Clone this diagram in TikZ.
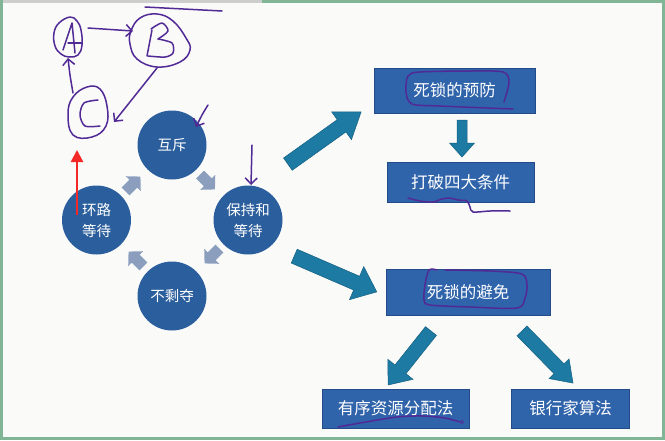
\documentclass[tikz,border=0pt]{standalone}
\usepackage{fontspec}
\newfontfamily\cjk{Noto Sans CJK SC}
\usepackage{tikz}
\usetikzlibrary{
  arrows.meta,
  positioning
}
\definecolor{framegreen}{RGB}{128,182,150}
\definecolor{paper}{RGB}{250,250,249}
\definecolor{topgray}{RGB}{205,205,205}
\definecolor{boxblue}{RGB}{47,99,170}
\definecolor{boxedge}{RGB}{35,75,135}
\definecolor{circblue}{RGB}{43,94,156}
\definecolor{arrteal}{RGB}{28,122,163}
\definecolor{arredge}{RGB}{20,95,128}
\definecolor{cyclegray}{RGB}{140,158,190}
\definecolor{inkpurple}{RGB}{82,42,150}
\definecolor{redpen}{RGB}{245,40,40}

% block arrow: style, centre, angle, length, shaft, head width, head length
\newcommand{\blockarrow}[7]{%
  \path[#1, shift={#2}, rotate=#3]
    ({-#4/2},{-#5/2}) -- ({#4/2-#7},{-#5/2}) -- ({#4/2-#7},{-#6/2})
    -- ({#4/2},0) -- ({#4/2-#7},{#6/2}) -- ({#4/2-#7},{#5/2})
    -- ({-#4/2},{#5/2}) -- cycle;}

\begin{document}
\begin{tikzpicture}[x=1pt, y=-1pt,
  stage/.style={circle, fill=circblue, minimum size=69pt, inner sep=0pt,
    text=white, align=center, font=\cjk\fontsize{14.5}{21}\selectfont},
  stepbox/.style={draw=boxedge, line width=0.6pt, fill=boxblue, text=white,
    inner sep=0pt, font=\cjk\fontsize{16.5}{18}\selectfont},
  bigarrow/.style={fill=arrteal, draw=arredge, line width=0.5pt},
  cyclearrow/.style={fill=cyclegray},
  ink/.style={draw=inkpurple, line width=1.5pt, line cap=round, line join=round},
  inkarr/.style={ink, -{Straight Barb[length=6pt, width=12pt]}}
]
  \useasboundingbox (0,0) rectangle (665,440);

  % frame of the screenshot
  \fill[framegreen] (0,0) rectangle (665,440);
  \fill[paper] (3,3) rectangle (662,437);
  \fill[topgray] (3,0) rectangle (262,3);

  % four conditions
  \node[stage] (mutex) at (172,145) {互斥};
  \node[stage] (hold) at (248,220) {保持和\\等待};
  \node[stage] (nopre) at (172,296) {不剩夺};
  \node[stage] (circwait) at (96.5,220) {环路\\等待};

  % cycle arrows
  \blockarrow{cyclearrow}{(207.5,182)}{-45}{21}{11}{21}{10}
  \blockarrow{cyclearrow}{(212,256)}{-135}{21}{11}{21}{10}
  \blockarrow{cyclearrow}{(136,259)}{135}{21}{11}{21}{10}
  \blockarrow{cyclearrow}{(133,184)}{45}{21}{11}{21}{10}

  % prevention and avoidance
  \node[stepbox, minimum width=161pt, minimum height=45pt] (prevent) at (454.5,90.5) {死锁的预防};
  \node[stepbox, minimum width=147pt, minimum height=40pt] (breakfour) at (460.5,182) {打破四大条件};
  \node[stepbox, minimum width=164pt, minimum height=46pt] (avoid) at (468,292) {死锁的避免};
  \node[stepbox, minimum width=147pt, minimum height=39pt] (ordered) at (395.5,408.5) {有序资源分配法};
  \node[stepbox, minimum width=118pt, minimum height=39pt, right=42pt of ordered] (banker) {银行家算法};

  % big arrows
  \blockarrow{bigarrow}{(324.5,138)}{35.5}{90}{15}{34}{24}
  \blockarrow{bigarrow}{(335.5,274)}{-23.4}{90}{15}{36}{22}
  \blockarrow{bigarrow}{(462,138.5)}{-90}{37}{10}{25}{14}
  \blockarrow{bigarrow}{(409.5,358)}{231.5}{69}{14}{32}{20}
  \blockarrow{bigarrow}{(547.5,357)}{-45.6}{73}{14}{28}{20}

  % handwritten A, B, C
  \draw[ink] plot[smooth cycle, tension=0.7] coordinates
    {(70,17) (59,23) (54,33) (55,46) (61,54) (69,57) (78,55) (82,45) (81,30) (77,21)};
  \draw[ink] (63,50) -- (72,23) -- (75,53);
  \draw[ink] (68,43) -- (82,43);
  \draw[ink] plot[smooth cycle, tension=0.7] coordinates
    {(140,18) (157,14) (173,21) (186,38) (190,50) (180,62) (157,67) (137,59) (130,44) (131,31)};
  \draw[ink] (152,30) -- (147,56);
  \draw[ink] plot[smooth] coordinates {(151,29) (162,23) (168,31) (158,39)};
  \draw[ink] plot[smooth] coordinates {(158,39) (172,43) (173,53) (165,57) (148,56)};
  \draw[ink] plot[smooth cycle, tension=0.7] coordinates
    {(87,87) (100,89) (107,106) (106,126) (92,137) (73,135) (68,114) (73,97)};
  \draw[ink] plot[smooth] coordinates {(98,100) (84,103) (80,115) (85,126) (100,126)};
  \draw[inkarr] (88,28) -- (133,31);
  \draw[inkarr] (157,68) -- (114,122);
  \draw[inkarr] plot[smooth] coordinates {(73,93) (70,75) (68,58)};
  \draw[ink] (145,7) -- (222,11);

  % pen marks on the slide
  \draw[inkarr] plot[smooth] coordinates {(208,105) (202,115) (196,127)};
  \draw[inkarr] (252,145) -- (251,185);
  \draw[ink] plot[smooth] coordinates
    {(513,109) (440,106) (412,104) (406,92) (408,76) (420,72) (470,71) (503,72) (509,82) (504,102)};
  \draw[ink] plot[smooth] coordinates
    {(408,198) (420,201) (433,202) (442,199) (450,198) (458,200) (467,201) (470,207) (473,212) (490,211) (510,211)};
  \draw[ink] plot[smooth] coordinates
    {(437,270) (429,270) (425,285) (424,300) (430,305) (470,307) (517,308) (525,298) (527,285) (522,274) (490,271) (445,270)};
  \draw[ink] plot[smooth] coordinates
    {(338,427) (360,423) (397,417) (423,416) (445,418) (460,422)};
  \draw[inkpurple, line width=0.6pt] (462,422) circle (1.6);
  \draw[redpen, line width=2.6pt, -{Triangle[length=12pt, width=12pt]}] (77,215) -- (77,150);
\end{tikzpicture}
\end{document}
